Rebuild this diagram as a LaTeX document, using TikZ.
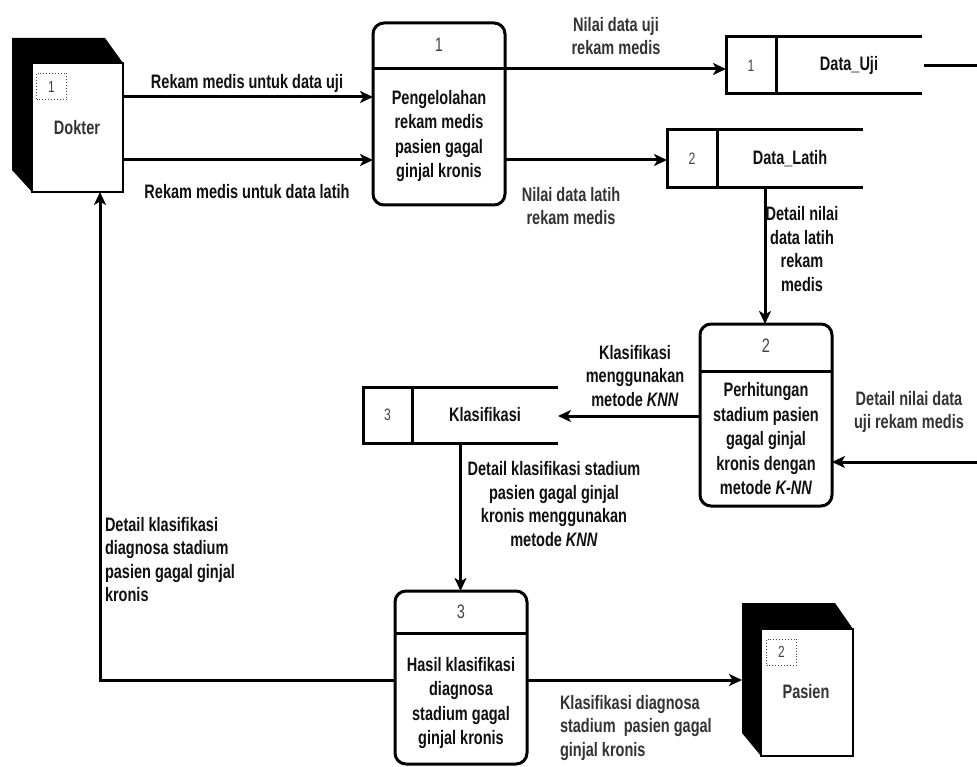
\documentclass[tikz,border=0pt]{standalone}
\usepackage{fontspec}
\setmainfont{Liberation Sans}[FakeStretch=0.745]
\usetikzlibrary{arrows.meta}
\definecolor{txt}{HTML}{101010}
\definecolor{soft}{HTML}{333333}
\definecolor{numc}{HTML}{444444}
\begin{document}
\begin{tikzpicture}[x=1pt,y=-1pt,
  every node/.style={inner sep=0pt, outer sep=0pt},
  proc/.style={draw, line width=3pt, rounded corners=11pt, minimum width=132pt},
  divline/.style={line width=3pt},
  storebox/.style={minimum width=196pt},
  storeline/.style={line width=3pt},
  flow/.style={line width=3pt, -{Stealth[length=13pt,width=12pt,inset=3.5pt]}},
  plain/.style={line width=3pt},
  front/.style={draw, fill=white, line width=1.3pt},
  tag/.style={draw=numc, dotted, line width=0.9pt, minimum width=30pt, minimum height=26pt, font=\fontsize{16}{18}\selectfont, text=numc},
  ptxt/.style={font=\bfseries\fontsize{19.5}{24.5}\selectfont, align=center, text=txt},
  numtxt/.style={font=\fontsize{19.5}{22}\selectfont, text=numc},
  snum/.style={font=\fontsize{16.5}{18}\selectfont, text=numc},
  stxt/.style={font=\bfseries\fontsize{19.5}{22}\selectfont, text=txt},
  lbl/.style={font=\bfseries\fontsize{19.5}{23.5}\selectfont, align=center, text=txt},
  lbls/.style={font=\bfseries\fontsize{19.5}{23.5}\selectfont, align=center, text=soft},
  ent/.style={font=\bfseries\fontsize{19.5}{22}\selectfont, text=soft}
]
\useasboundingbox (0,0) rectangle (977,767);

% ---- External entity: Dokter
\fill (12,38) -- (105,38) -- (123,63) -- (32,63) -- (32,192) -- (12,170) -- cycle;
\node[front, minimum width=91pt, minimum height=129pt] (dokter) at (77.5,127.5) {};
\node[tag] (dtag) at (51.5,86.5) {1};
\node[ent] (dname) at (77,128) {Dokter};

% ---- External entity: Pasien
\fill (742,603) -- (835,603) -- (853,629) -- (761,629) -- (761,756) -- (742,733) -- cycle;
\node[front, minimum width=92pt, minimum height=127pt] (pasien) at (807,692.5) {};
\node[tag] (ptag) at (781.5,652) {2};
\node[ent] (pname) at (806,692) {Pasien};
\coordinate (pasback) at (742,680);

% ---- Process 1
\node[proc, minimum height=182pt] (p1) at (439,114) {};
\draw[divline] (p1.west |- 0,69) -- (p1.east |- 0,69);
\node[numtxt] (p1n) at (439,45) {1};
\node[ptxt] (p1t) at (439,136) {Pengelolahan\\rekam medis\\pasien gagal\\ginjal kronis};

% ---- Process 2
\node[proc, minimum height=182pt] (p2) at (766,415) {};
\draw[divline] (p2.west |- 0,371) -- (p2.east |- 0,371);
\node[numtxt] (p2n) at (766,346) {2};
\node[ptxt] (p2t) at (766,439) {Perhitungan\\stadium pasien\\gagal ginjal\\kronis dengan\\metode \textit{K-NN}};

% ---- Process 3
\node[proc, minimum height=173pt] (p3) at (461,677.5) {};
\draw[divline] (p3.west |- 0,633) -- (p3.east |- 0,633);
\node[numtxt] (p3n) at (461,612) {3};
\node[ptxt] (p3t) at (461,703) {Hasil klasifikasi\\diagnosa\\stadium gagal\\ginjal kronis};

% ---- Data store 1: Data_Uji
\node[storebox, minimum height=57pt] (s1) at (824,65.5) {};
\draw[storeline] (s1.north east) -- (s1.north west) -- (s1.south west) -- (s1.south east);
\draw[storeline] ([xshift=50pt]s1.north west) -- ([xshift=50pt]s1.south west);
\node[snum] (s1n) at (751,65.5) {1};
\node[stxt] (s1t) at (849,65.5) {Data\_Uji};

% ---- Data store 2: Data_Latih
\node[storebox, minimum height=58pt] (s2) at (765,159) {};
\draw[storeline] (s2.north east) -- (s2.north west) -- (s2.south west) -- (s2.south east);
\draw[storeline] ([xshift=50pt]s2.north west) -- ([xshift=50pt]s2.south west);
\node[snum] (s2n) at (692,159) {2};
\node[stxt] (s2t) at (790,159) {Data\_Latih};

% ---- Data store 3: Klasifikasi
\node[storebox, minimum width=195pt, minimum height=56pt] (s3) at (460.5,415) {};
\draw[storeline] (s3.north east) -- (s3.north west) -- (s3.south west) -- (s3.south east);
\draw[storeline] ([xshift=49pt]s3.north west) -- ([xshift=49pt]s3.south west);
\node[snum] (s3n) at (387.5,415) {3};
\node[stxt] (s3t) at (485,415) {Klasifikasi};

% ---- Free ends
\coordinate (rt1) at (977,66);
\coordinate (rt2) at (977,462);
\coordinate (bl) at (100,680);

% ---- Connectors
\draw[flow] (dokter.east |- 0,97) -- (p1.west |- 0,97);
\draw[flow] (dokter.east |- 0,160) -- (p1.west |- 0,160);
\draw[flow] (p1.east |- 0,69) -- (s1.west |- 0,69);
\draw[flow] (p1.east |- 0,160) -- (s2.west |- 0,160);
\draw[flow] (s2.south) -- (s2.south |- p2.north);
\draw[flow] (p2.west |- 0,416) -- (s3.east |- 0,416);
\draw[flow] (s3.south) -- (s3.south |- p3.north);
\draw[flow] (p3.east |- bl) -- (pasback);
\draw[flow] (p3.west |- bl) -- (bl) -- (bl |- dokter.south);
\draw[plain] ([xshift=2pt]s1.east |- rt1) -- (rt1);
\draw[flow] (rt2) -- (p2.east |- rt2);

% ---- Labels
\node[lbl] (l1) at (247,83) {Rekam medis untuk data uji};
\node[lbl] (l2) at (247,192) {Rekam medis untuk data latih};
\node[lbls] (l3) at (616,36) {Nilai data uji\\rekam medis};
\node[lbls] (l4) at (571,206) {Nilai data latih\\rekam medis};
\node[lbl] (l5) at (802,249) {Detail nilai\\data latih\\rekam\\medis};
\node[lbl] (l6) at (635,376) {Klasifikasi\\menggunakan\\metode \textit{KNN}};
\node[lbls] (l7) at (909,412) {Detail nilai data\\uji rekam medis};
\node[lbl] (l8) at (554,504) {Detail klasifikasi stadium\\pasien gagal ginjal\\kronis menggunakan\\metode \textit{KNN}};
\node[lbl, align=left, anchor=west] (l9) at (105,559.5) {Detail klasifikasi\\diagnosa stadium\\pasien gagal ginjal\\kronis};
\node[lbls, align=left, anchor=west] (l10) at (560,727.5) {Klasifikasi diagnosa\\stadium\ \ pasien gagal\\ginjal kronis};
\end{tikzpicture}
\end{document}
